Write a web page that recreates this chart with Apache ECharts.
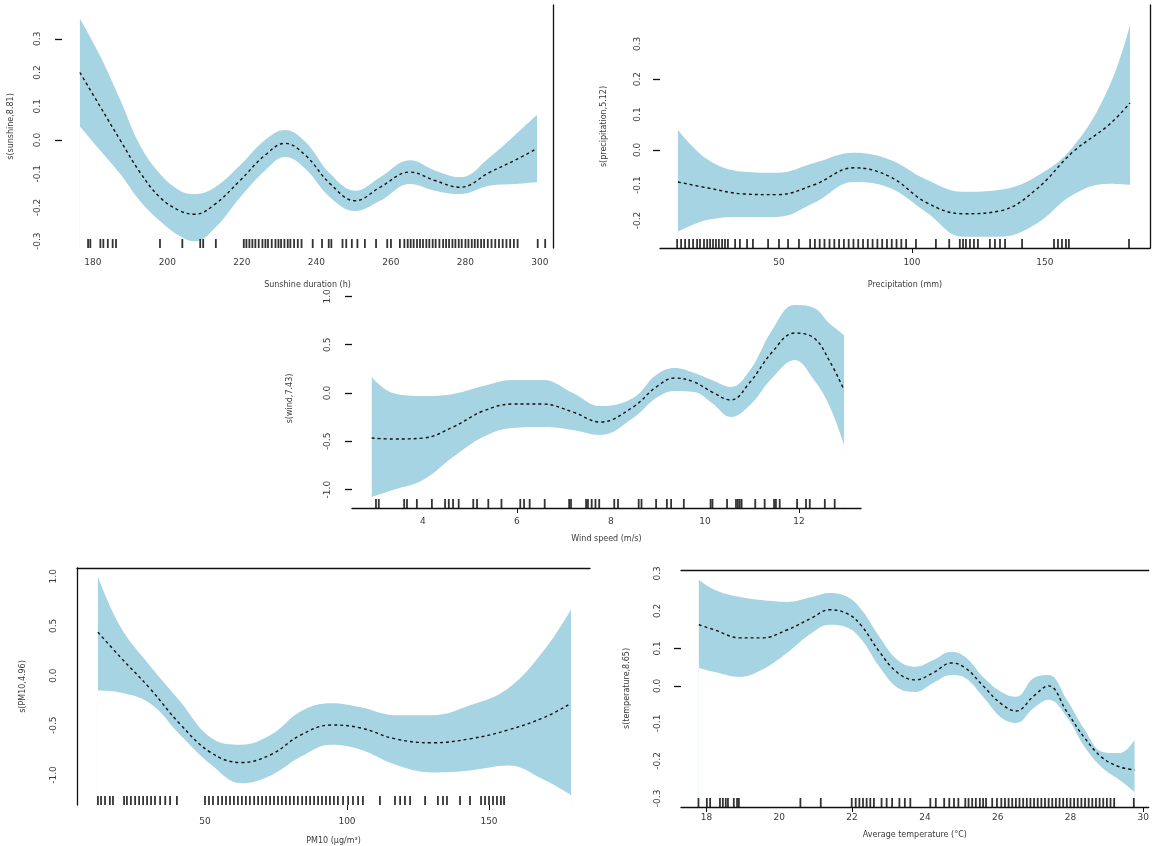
<!DOCTYPE html>
<html>
<head>
<meta charset="utf-8">
<script src="https://cdn.jsdelivr.net/npm/echarts@6/dist/echarts.min.js"></script>
<style>
  html, body { margin: 0; padding: 0; background: #fff; }
  #chart { width: 1152px; height: 846px; }
</style>
</head>
<body>
<div id="chart"></div>
<script>
// panel 1 - sunshine
const p1X   = [176.5, 181.9, 187.3, 192.6, 198, 203.4, 207.4, 212.8, 219.5, 226.2, 231.6, 237, 243.7, 250.4, 257.1, 265.1, 271.8, 278.6, 286.6, 293.3, 299.2];
const p1Fit = [0.20, 0.10, 0.0, -0.095, -0.17, -0.21, -0.22, -0.19, -0.12, -0.045, -0.01, -0.045, -0.13, -0.18, -0.14, -0.095, -0.12, -0.14, -0.095, -0.06, -0.025];
const p1Hi  = [0.36, 0.25, 0.12, -0.015, -0.10, -0.15, -0.16, -0.14, -0.075, 0.0, 0.03, -0.005, -0.10, -0.15, -0.11, -0.06, -0.09, -0.11, -0.05, 0.015, 0.075];
const p1Lo  = [0.04, -0.03, -0.10, -0.18, -0.24, -0.285, -0.30, -0.26, -0.17, -0.09, -0.05, -0.085, -0.17, -0.21, -0.18, -0.13, -0.15, -0.16, -0.135, -0.13, -0.125];
const p1Rug = [178.7, 179.3, 182, 182.8, 184, 185.3, 186.2, 198, 204, 208.8, 209.6, 213, 220.5, 221.2, 222, 222.8, 223.6, 224.5, 225.5, 226.3, 227, 228, 229, 229.8, 230.5, 231.4, 232.3, 233, 234, 235, 236, 239, 241.5, 243.3, 244, 247, 248, 249.5, 251, 253, 256, 259, 260, 262.4, 263.6, 264.5, 265.3, 266.1, 267, 267.8, 268.6, 269.5, 270.3, 271.2, 272, 273, 274, 274.8, 275.6, 276.5, 277.3, 278.2, 279, 280, 280.8, 281.7, 282.5, 283.3, 284.2, 285, 286, 287, 288, 289, 290, 291, 292, 293, 294, 299.4, 301.4];
const p1XLabels = [180, 200, 220, 240, 260, 280, 300];
const p1YLabels = [-0.3, -0.2, -0.1, 0.0, 0.1, 0.2, 0.3];

// panel 2 - precipitation
const p2X   = [12, 23.3, 36.8, 49.2, 63.2, 78.2, 91.7, 105.6, 119.2, 133.1, 146.6, 160.5, 174.1, 182];
const p2Fit = [-0.091, -0.108, -0.125, -0.127, -0.099, -0.051, -0.076, -0.150, -0.181, -0.173, -0.113, -0.006, 0.071, 0.133];
const p2Hi  = [0.057, -0.028, -0.062, -0.065, -0.037, -0.008, -0.028, -0.085, -0.119, -0.113, -0.076, 0.008, 0.178, 0.354];
const p2Lo  = [-0.232, -0.198, -0.19, -0.19, -0.15, -0.091, -0.108, -0.178, -0.246, -0.246, -0.21, -0.127, -0.096, -0.099];
const p2Rug = [11.7, 13.2, 14.7, 16.2, 17.7, 19.2, 20.3, 21.8, 23, 24.1, 25.2, 26.3, 27.4, 28.6, 29.7, 30.8, 33.5, 35.3, 38, 40.2, 45.9, 50, 53.4, 57.5, 61.7, 63.5, 65.3, 67.1, 69, 70.8, 72.6, 74.4, 76.2, 78, 79.8, 81.6, 83.4, 85.2, 87, 88.8, 90.6, 92.4, 94.2, 96, 97.8, 101.5, 109, 114, 118, 119.2, 120.3, 121.8, 123.3, 124.8, 129.3, 131.2, 133.1, 135, 141.4, 153.4, 154.9, 156.4, 157.9, 159, 181.6];
const p2XLabels = [50, 100, 150];
const p2YLabels = [-0.2, -0.1, 0.0, 0.1, 0.2, 0.3];

// panel 3 - wind speed
const p3X   = [2.91, 3.36, 4, 4.64, 5.28, 5.91, 6.55, 7.19, 7.77, 8.47, 8.96, 9.36, 9.77, 10.15, 10.55, 10.96, 11.43, 11.91, 12.32, 12.64, 12.96];
const p3Fit = [-0.466, -0.476, -0.466, -0.352, -0.186, -0.114, -0.114, -0.197, -0.3, -0.145, 0.062, 0.155, 0.114, 0.01, -0.072, 0.114, 0.424, 0.621, 0.569, 0.342, 0.031];
const p3Hi  = [0.166, 0, -0.031, -0.01, 0.072, 0.135, 0.135, 0, -0.135, -0.052, 0.186, 0.259, 0.207, 0.135, 0.062, 0.238, 0.652, 0.911, 0.88, 0.725, 0.6];
const p3Lo  = [-1.077, -1.004, -0.901, -0.663, -0.455, -0.362, -0.352, -0.383, -0.435, -0.259, -0.052, 0.021, 0.01, -0.104, -0.248, -0.124, 0.155, 0.342, 0.135, -0.124, -0.538];
const p3Rug = [3.0, 3.06, 3.6, 3.66, 3.87, 4.19, 4.47, 4.55, 4.64, 4.76, 5.07, 5.15, 5.39, 5.67, 6.07, 6.15, 6.27, 6.59, 7.11, 7.15, 7.47, 7.51, 7.59, 7.67, 7.75, 8.07, 8.15, 8.59, 8.65, 8.96, 9.19, 9.28, 9.55, 10.12, 10.16, 10.47, 10.66, 10.7, 10.74, 10.78, 11.07, 11.27, 11.47, 11.51, 11.59, 11.96, 12.15, 12.23, 12.55, 12.76];
const p3XLabels = [4, 6, 8, 10, 12];
const p3YLabels = [-1.0, -0.5, 0.0, 0.5, 1.0];

// panel 4 - PM10
const p4X   = [12.3, 20.1, 30.6, 41.2, 52.1, 62.7, 73.2, 83.8, 94.4, 104.9, 116.9, 129.9, 143.3, 156.7, 169.7, 178.9];
const p4Fit = [0.437, 0.189, -0.129, -0.487, -0.775, -0.875, -0.795, -0.596, -0.497, -0.527, -0.636, -0.676, -0.636, -0.547, -0.417, -0.278];
const p4Hi  = [0.994, 0.497, 0.099, -0.258, -0.626, -0.696, -0.596, -0.358, -0.278, -0.318, -0.398, -0.398, -0.298, -0.129, 0.268, 0.666];
const p4Lo  = [-0.149, -0.169, -0.278, -0.596, -0.895, -1.083, -1.004, -0.815, -0.696, -0.746, -0.895, -0.974, -0.954, -0.905, -1.054, -1.203];
const p4Rug = [12.3, 13.4, 14.8, 16.5, 17.6, 21.5, 22.5, 23.9, 25.4, 26.8, 28.2, 29.6, 31, 32.4, 34.2, 36, 37.7, 40.1, 50, 51.4, 52.8, 54.6, 56, 57.4, 58.8, 60.2, 61.6, 63, 64.4, 65.8, 67.3, 68.7, 70.1, 71.5, 72.9, 74.3, 75.7, 77.1, 78.5, 79.9, 81.3, 82.7, 84.2, 85.6, 87, 88.4, 89.8, 91.2, 92.6, 94, 95.4, 96.8, 98.6, 100.4, 102.1, 103.9, 105.6, 111.6, 116.9, 118.7, 120.4, 122.2, 127.5, 132, 133.8, 135.2, 139.8, 143.3, 147.2, 148.6, 150, 151.4, 152.8, 154.2, 155.3];
const p4XLabels = [50, 100, 150];
const p4YLabels = [-1.0, -0.5, 0.0, 0.5, 1.0];

// panel 5 - temperature
const p5X   = [17.79, 18.23, 18.92, 19.52, 20.21, 20.89, 21.38, 21.88, 22.26, 22.75, 23.25, 23.74, 24.23, 24.73, 25.11, 25.6, 26.1, 26.51, 26.99, 27.4, 27.9, 28.39, 28.88, 29.35, 29.76];
const p5Fit = [0.163, 0.149, 0.128, 0.128, 0.149, 0.181, 0.203, 0.192, 0.16, 0.091, 0.035, 0.016, 0.035, 0.061, 0.048, 0, -0.048, -0.067, -0.027, 0, -0.069, -0.139, -0.192, -0.216, -0.224];
const p5Hi  = [0.283, 0.256, 0.237, 0.229, 0.224, 0.237, 0.248, 0.237, 0.203, 0.131, 0.069, 0.051, 0.069, 0.091, 0.077, 0.024, -0.016, -0.029, 0.021, 0.029, -0.037, -0.117, -0.176, -0.179, -0.144];
const p5Lo  = [0.048, 0.037, 0.024, 0.043, 0.088, 0.141, 0.163, 0.155, 0.123, 0.051, -0.005, -0.016, 0.008, 0.029, 0.021, -0.029, -0.085, -0.099, -0.059, -0.037, -0.083, -0.163, -0.219, -0.251, -0.283];
const p5Rug = [17.78, 18.01, 18.1, 18.37, 18.45, 18.53, 18.59, 18.75, 18.84, 18.89, 20.58, 21.14, 21.99, 22.1, 22.2, 22.3, 22.4, 22.5, 22.6, 22.81, 22.95, 23.1, 23.3, 23.45, 23.6, 24.15, 24.3, 24.53, 24.67, 24.8, 24.92, 25.11, 25.2, 25.3, 25.4, 25.51, 25.6, 25.68, 25.85, 25.98, 26.1, 26.2, 26.3, 26.4, 26.5, 26.6, 26.7, 26.8, 26.9, 27.0, 27.1, 27.2, 27.3, 27.4, 27.5, 27.6, 27.7, 27.8, 27.9, 28.0, 28.1, 28.2, 28.3, 28.4, 28.5, 28.6, 28.7, 28.8, 28.9, 29.0, 29.1, 29.2, 29.74];
const p5XLabels = [18, 20, 22, 24, 26, 28, 30];
const p5YLabels = [-0.3, -0.2, -0.1, 0.0, 0.1, 0.2, 0.3];

const BAND = '#a6d4e2';
const TXT = '#3a3a3a';
const FONT = 'DejaVu Sans';

// layout of each panel (plot region in px) and which frame lines it shows
const panels = [
  { x: p1X, fit: p1Fit, lo: p1Lo, hi: p1Hi, rug: p1Rug, xLab: p1XLabels, yLab: p1YLabels,
    xTick: [], yTick: [0.3, 0.0],
    xName: 'Sunshine duration (h)', yName: 's(sunshine,8.81)',
    box: { left: 62, top: 5, width: 491, height: 243 }, xr: [171.7, 303.5], yr: [-0.32, 0.40],
    bottom: false, left: false, right: true, top: false, xm: 10, ym: 20, xg: 33, yg: 47 },
  { x: p2X, fit: p2Fit, lo: p2Lo, hi: p2Hi, rug: p2Rug, xLab: p2XLabels, yLab: p2YLabels,
    xTick: [100], yTick: [0.2, 0.0],
    xName: 'Precipitation (mm)', yName: 's(precipitation,5.12)',
    box: { left: 660, top: 5, width: 490, height: 243 }, xr: [5.26, 189.5], yr: [-0.278, 0.41],
    bottom: true, left: false, right: true, top: false, xm: 10, ym: 18, xg: 33, yg: 52 },
  { x: p3X, fit: p3Fit, lo: p3Lo, hi: p3Hi, rug: p3Rug, xLab: p3XLabels, yLab: p3YLabels,
    xTick: [6, 12], yTick: p3YLabels,
    xName: 'Wind speed (m/s)', yName: 's(wind,7.43)',
    box: { left: 352, top: 289, width: 509, height: 219 }, xr: [2.49, 13.32], yr: [-1.19, 1.077],
    bottom: true, left: false, right: false, top: false, xm: 9, ym: 20, xg: 27, yg: 58 },
  { x: p4X, fit: p4Fit, lo: p4Lo, hi: p4Hi, rug: p4Rug, xLab: p4XLabels, yLab: p4YLabels,
    xTick: [100, 150], yTick: [],
    xName: 'PM10 (\u03bcg/m\u00b3)', yName: 's(PM10,4.96)',
    box: { left: 77, top: 568, width: 513, height: 240 }, xr: [4.93, 185.56], yr: [-1.302, 1.083],
    bottom: false, left: true, right: false, top: true, xm: 12, ym: 19, xg: 32, yg: 50 },
  { x: p5X, fit: p5Fit, lo: p5Lo, hi: p5Hi, rug: p5Rug, xLab: p5XLabels, yLab: p5YLabels,
    xTick: [18, 22, 30], yTick: [0.1, 0.0],
    xName: 'Average temperature (\u00b0C)', yName: 's(temperature,8.65)',
    box: { left: 681, top: 570, width: 469, height: 237 }, xr: [17.3, 30.15], yr: [-0.323, 0.309],
    bottom: true, left: false, right: false, top: true, xm: 6, ym: 19, xg: 24, yg: 50 }
];

const grid = [], xAxis = [], yAxis = [], series = [];
const lineOnly = (show) => ({ show, onZero: false, lineStyle: { color: '#111', width: 1.3 } });

panels.forEach((p, i) => {
  grid.push(Object.assign({}, p.box));
  const xi = xAxis.length, yi = yAxis.length;
  xAxis.push({
    type: 'value', gridIndex: i, min: p.xr[0], max: p.xr[1],
    name: p.xName, nameLocation: 'middle', nameGap: p.xg,
    nameTextStyle: { fontSize: 8, color: TXT, fontFamily: FONT },
    axisLine: lineOnly(p.bottom),
    axisTick: { show: p.xTick.length > 0, customValues: p.xTick, length: 5, lineStyle: { color: '#111' } },
    axisLabel: { customValues: p.xLab, margin: p.xm, fontSize: 9, color: TXT, fontFamily: FONT },
    splitLine: { show: false }, z: 5
  });
  yAxis.push({
    type: 'value', gridIndex: i, min: p.yr[0], max: p.yr[1],
    name: p.yName, nameLocation: 'middle', nameGap: p.yg,
    nameTextStyle: { fontSize: 8, color: TXT, fontFamily: FONT },
    axisLine: lineOnly(p.left),
    axisTick: { show: p.yTick.length > 0, customValues: p.yTick, length: 7, lineStyle: { color: '#111', width: 1.3 } },
    axisLabel: { customValues: p.yLab, rotate: 90, margin: p.ym, fontSize: 9, color: TXT, fontFamily: FONT,
      formatter: v => v.toFixed(1) },
    splitLine: { show: false }, z: 5
  });
  if (p.right) {
    yAxis.push({ type: 'value', gridIndex: i, position: 'right', min: p.yr[0], max: p.yr[1], z: 5,
      axisLine: lineOnly(true), axisTick: { show: false }, axisLabel: { show: false }, splitLine: { show: false } });
  }
  if (p.top) {
    xAxis.push({ type: 'value', gridIndex: i, position: 'top', min: p.xr[0], max: p.xr[1], z: 5,
      axisLine: lineOnly(true), axisTick: { show: false }, axisLabel: { show: false }, splitLine: { show: false } });
  }

  // confidence band: upper bound filled down in blue, lower bound filled down in white on top of it
  series.push({
    type: 'line', xAxisIndex: xi, yAxisIndex: yi, z: 1,
    smooth: 0.4, symbol: 'none', silent: true, lineStyle: { width: 0, opacity: 0 },
    areaStyle: { color: BAND, opacity: 1, origin: 'start' },
    data: p.x.map((v, k) => [v, p.hi[k]])
  });
  series.push({
    type: 'line', xAxisIndex: xi, yAxisIndex: yi, z: 2,
    smooth: 0.4, symbol: 'none', silent: true, lineStyle: { width: 0, opacity: 0 },
    areaStyle: { color: '#fff', opacity: 1, origin: 'start', borderColor: '#fff' },
    data: p.x.map((v, k) => [v, p.lo[k]])
  });
  series.push({
    type: 'line', xAxisIndex: xi, yAxisIndex: yi, z: 3, smooth: 0.4, symbol: 'none', silent: true,
    lineStyle: { color: '#111', width: 1.4, type: [3, 3] },
    data: p.x.map((v, k) => [v, p.fit[k]])
  });
  series.push({
    type: 'scatter', xAxisIndex: xi, yAxisIndex: yi, z: 4, silent: true, clip: false,
    symbol: 'rect', symbolSize: [1.8, 9], symbolOffset: [0, -4.5],
    itemStyle: { color: '#000' },
    data: p.rug.map(v => [v, p.yr[0]])
  });
});

const chart = echarts.init(document.getElementById('chart'), null, { renderer: 'canvas' });
chart.setOption({
  backgroundColor: '#fff',
  animation: false,
  grid, xAxis, yAxis, series
});
</script>
</body>
</html>
